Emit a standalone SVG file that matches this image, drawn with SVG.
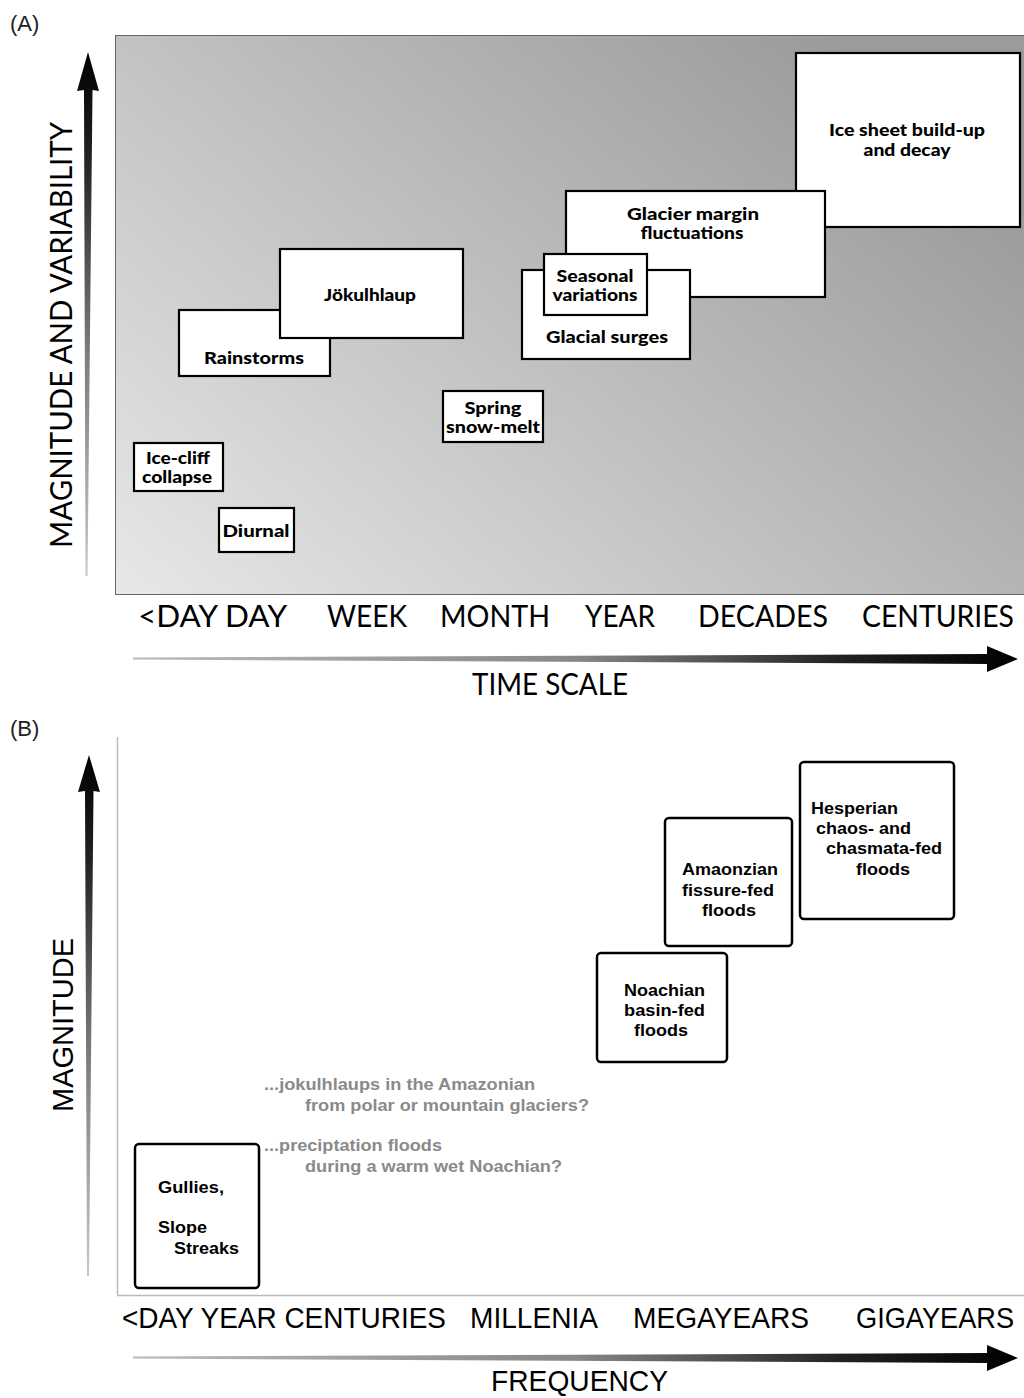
<svg xmlns="http://www.w3.org/2000/svg" width="1024" height="1398" viewBox="0 0 1024 1398">
<style>
.box{fill:#fff;stroke:#000;stroke-width:2.2}
.rbox{fill:#fff;stroke:#000;stroke-width:2.5}
.ta{font-family:Lato,"Open Sans","DejaVu Sans",sans-serif;font-weight:900;font-size:17px;fill:#000;text-anchor:middle}
.tb{font-family:"Liberation Sans",Arial,sans-serif;font-weight:bold;font-size:17px;fill:#000}
.tg{font-family:"Liberation Sans",Arial,sans-serif;font-weight:bold;font-size:17px;fill:#8a8a8a}
.axa{font-family:Lato,"Open Sans","DejaVu Sans",sans-serif;font-size:30px;fill:#000}
.axb{font-family:"Liberation Sans",Arial,sans-serif;font-size:30px;fill:#000}
.lbl{font-family:"Liberation Sans",Arial,sans-serif;font-size:22px;fill:#222}
</style>
<defs>
<linearGradient id="bgA" gradientUnits="userSpaceOnUse" x1="200" y1="640" x2="760" y2="-20">
<stop offset="0" stop-color="#e6e6e6"/>
<stop offset="1" stop-color="#9b9b9b"/>
</linearGradient>
<linearGradient id="gv" x1="0" y1="1" x2="0" y2="0">
<stop offset="0" stop-color="#c8c8c8"/>
<stop offset="0.45" stop-color="#777"/>
<stop offset="0.8" stop-color="#222"/>
<stop offset="1" stop-color="#000"/>
</linearGradient>
<linearGradient id="gh" x1="0" y1="0" x2="1" y2="0">
<stop offset="0" stop-color="#bbb"/>
<stop offset="0.5" stop-color="#888"/>
<stop offset="0.8" stop-color="#222"/>
<stop offset="1" stop-color="#000"/>
</linearGradient>
</defs>
<rect width="1024" height="1398" fill="#fff"/>

<!-- Panel A -->
<text class="lbl" x="10" y="31">(A)</text>
<rect x="115.5" y="35.5" width="920" height="559" fill="url(#bgA)" stroke="#666" stroke-width="1"/>

<g id="arrowsA">
<polygon points="85.5,576 84,90 77,91 88,52 99,91 92.5,90 87.5,576" fill="url(#gv)"/>
<polygon points="133,657.5 987,654 987,646 1018,659 987,672 987,664 133,659.5" fill="url(#gh)"/>
</g>

<text class="axa" transform="translate(72,548) rotate(-90)" textLength="426" lengthAdjust="spacingAndGlyphs">MAGNITUDE AND VARIABILITY</text>
<g id="ticksA">
<text class="axa" x="138" y="627" textLength="149" lengthAdjust="spacingAndGlyphs">&lt;DAY DAY</text>
<text class="axa" x="327" y="627" textLength="80" lengthAdjust="spacingAndGlyphs">WEEK</text>
<text class="axa" x="440" y="627" textLength="110" lengthAdjust="spacingAndGlyphs">MONTH</text>
<text class="axa" x="585" y="627" textLength="70" lengthAdjust="spacingAndGlyphs">YEAR</text>
<text class="axa" x="698" y="627" textLength="130" lengthAdjust="spacingAndGlyphs">DECADES</text>
<text class="axa" x="862" y="627" textLength="152" lengthAdjust="spacingAndGlyphs">CENTURIES</text>
<text class="axa" x="472" y="695" textLength="156" lengthAdjust="spacingAndGlyphs">TIME SCALE</text>
</g>

<g id="ice-sheet">
<rect class="box" x="796" y="53" width="224" height="174"/>
<text class="ta" x="907" y="136" textLength="156" lengthAdjust="spacingAndGlyphs">Ice sheet build-up</text>
<text class="ta" x="907" y="156" textLength="87" lengthAdjust="spacingAndGlyphs">and decay</text>
</g>
<g id="glacier-margin">
<rect class="box" x="566" y="191" width="259" height="106"/>
<text class="ta" x="693" y="220" textLength="132" lengthAdjust="spacingAndGlyphs">Glacier margin</text>
<text class="ta" x="692" y="239" textLength="103" lengthAdjust="spacingAndGlyphs">fluctuations</text>
</g>
<g id="glacial-surges">
<rect class="box" x="522" y="270" width="168" height="89"/>
<text class="ta" x="607" y="343" textLength="122" lengthAdjust="spacingAndGlyphs">Glacial surges</text>
</g>
<g id="seasonal">
<rect class="box" x="544" y="254" width="103" height="61"/>
<text class="ta" x="595" y="282" textLength="77" lengthAdjust="spacingAndGlyphs">Seasonal</text>
<text class="ta" x="595" y="301" textLength="85" lengthAdjust="spacingAndGlyphs">variations</text>
</g>
<g id="rainstorms">
<rect class="box" x="179" y="310" width="151" height="66"/>
<text class="ta" x="254" y="364" textLength="100" lengthAdjust="spacingAndGlyphs">Rainstorms</text>
</g>
<g id="jokulhlaup">
<rect class="box" x="280" y="249" width="183" height="89"/>
<text class="ta" x="370" y="301" textLength="92" lengthAdjust="spacingAndGlyphs">Jökulhlaup</text>
</g>
<g id="spring">
<rect class="box" x="443" y="391" width="100" height="51"/>
<text class="ta" x="493" y="414" textLength="57" lengthAdjust="spacingAndGlyphs">Spring</text>
<text class="ta" x="493" y="433" textLength="94" lengthAdjust="spacingAndGlyphs">snow-melt</text>
</g>
<g id="ice-cliff">
<rect class="box" x="134" y="443" width="89" height="48"/>
<text class="ta" x="178" y="464" textLength="64" lengthAdjust="spacingAndGlyphs">Ice-cliff</text>
<text class="ta" x="177" y="483" textLength="70" lengthAdjust="spacingAndGlyphs">collapse</text>
</g>
<g id="diurnal">
<rect class="box" x="219" y="508" width="75" height="44"/>
<text class="ta" x="256" y="537" textLength="67" lengthAdjust="spacingAndGlyphs">Diurnal</text>
</g>

<!-- Panel B -->
<text class="lbl" x="10" y="736">(B)</text>
<g id="frameB" stroke="#bbb" stroke-width="1.5" fill="none">
<line x1="117.5" y1="737" x2="117.5" y2="1295"/>
<line x1="117" y1="1295.5" x2="1024" y2="1295.5"/>
</g>

<g id="arrowsB">
<polygon points="87,1276 85,791 78,792 89,755 100,792 93.5,791 89,1276" fill="url(#gv)"/>
<polygon points="133,1356.5 987,1353 987,1345 1018,1358 987,1371 987,1363 133,1358.5" fill="url(#gh)"/>
</g>

<text class="axb" transform="translate(73,1112) rotate(-90)" textLength="174" lengthAdjust="spacingAndGlyphs">MAGNITUDE</text>
<g id="ticksB">
<text class="axb" x="122" y="1328" textLength="324" lengthAdjust="spacingAndGlyphs">&lt;DAY YEAR CENTURIES</text>
<text class="axb" x="470" y="1328" textLength="128" lengthAdjust="spacingAndGlyphs">MILLENIA</text>
<text class="axb" x="633" y="1328" textLength="176" lengthAdjust="spacingAndGlyphs">MEGAYEARS</text>
<text class="axb" x="856" y="1328" textLength="158" lengthAdjust="spacingAndGlyphs">GIGAYEARS</text>
<text class="axb" x="491" y="1391" textLength="177" lengthAdjust="spacingAndGlyphs">FREQUENCY</text>
</g>

<g id="hesperian">
<rect class="rbox" x="800" y="762" width="154" height="157" rx="4"/>
<text class="tb" x="811" y="814" textLength="87" lengthAdjust="spacingAndGlyphs">Hesperian</text>
<text class="tb" x="816" y="834" textLength="95" lengthAdjust="spacingAndGlyphs">chaos- and</text>
<text class="tb" x="826" y="854" textLength="116" lengthAdjust="spacingAndGlyphs">chasmata-fed</text>
<text class="tb" x="856" y="875" textLength="54" lengthAdjust="spacingAndGlyphs">floods</text>
</g>
<g id="amazonian">
<rect class="rbox" x="665" y="818" width="127" height="128" rx="4"/>
<text class="tb" x="682" y="875" textLength="96" lengthAdjust="spacingAndGlyphs">Amaonzian</text>
<text class="tb" x="682" y="896" textLength="92" lengthAdjust="spacingAndGlyphs">fissure-fed</text>
<text class="tb" x="702" y="916" textLength="54" lengthAdjust="spacingAndGlyphs">floods</text>
</g>
<g id="noachian">
<rect class="rbox" x="597" y="953" width="130" height="109" rx="4"/>
<text class="tb" x="624" y="996" textLength="81" lengthAdjust="spacingAndGlyphs">Noachian</text>
<text class="tb" x="624" y="1016" textLength="81" lengthAdjust="spacingAndGlyphs">basin-fed</text>
<text class="tb" x="634" y="1036" textLength="54" lengthAdjust="spacingAndGlyphs">floods</text>
</g>
<g id="gullies">
<rect class="rbox" x="135" y="1144" width="124" height="144" rx="4"/>
<text class="tb" x="158" y="1193" textLength="66" lengthAdjust="spacingAndGlyphs">Gullies,</text>
<text class="tb" x="158" y="1233" textLength="49" lengthAdjust="spacingAndGlyphs">Slope</text>
<text class="tb" x="174" y="1254" textLength="65" lengthAdjust="spacingAndGlyphs">Streaks</text>
</g>
<g id="notes">
<text class="tg" x="264" y="1090" textLength="271" lengthAdjust="spacingAndGlyphs">...jokulhlaups in the Amazonian</text>
<text class="tg" x="305" y="1111" textLength="284" lengthAdjust="spacingAndGlyphs">from polar or mountain glaciers?</text>
<text class="tg" x="264" y="1151" textLength="178" lengthAdjust="spacingAndGlyphs">...preciptation floods</text>
<text class="tg" x="305" y="1172" textLength="257" lengthAdjust="spacingAndGlyphs">during a warm wet Noachian?</text>
</g>
</svg>
